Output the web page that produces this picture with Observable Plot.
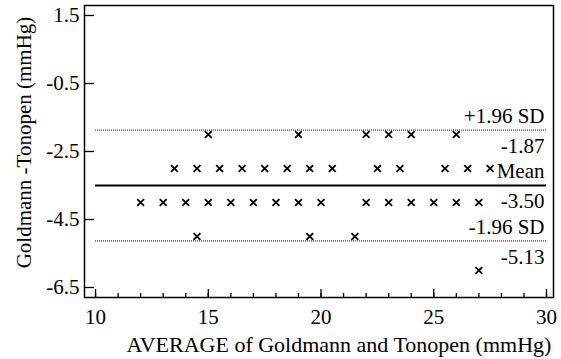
<!DOCTYPE html>
<html><head><meta charset="utf-8">
<script src="https://cdn.jsdelivr.net/npm/d3@7"></script>
<script src="https://cdn.jsdelivr.net/npm/@observablehq/plot@0.6"></script>
<style>
body{margin:0;background:#fff}
</style>
</head><body>
<div id="chart"></div>
<script>
// Differences (Goldmann - Tonopen) and the averages observed at each difference
const diffLevels = [-2, -3, -4, -5, -6];
const averagesAtMinus2 = [15, 19, 22, 23, 24, 26];
const averagesAtMinus3 = [13.5, 14.5, 15.5, 16.5, 17.5, 18.5, 19.5, 20.5, 22.5, 23.5, 25.5, 26.5, 27.5];
const averagesAtMinus4 = [12, 13, 14, 15, 16, 17, 18, 19, 20, 22, 23, 24, 25, 26, 27];
const averagesAtMinus5 = [14.5, 19.5, 21.5];
const averagesAtMinus6 = [27];

// Limits of agreement
const limitNames = ["+1.96 SD", "Mean", "-1.96 SD"];
const limitValues = [-1.87, -3.50, -5.13];
const limitLabels = ["-1.87", "-3.50", "-5.13"];

// Tick labels
const yTicks = [1.5, -0.5, -2.5, -4.5, -6.5];
const xMajorTicks = [10, 15, 20, 25, 30];
const xMinorTicks = [10, 11, 12, 13, 14, 15, 16, 17, 18, 19, 20, 21, 22, 23, 24, 25, 26, 27, 28, 29, 30];

const xTitle = "AVERAGE of Goldmann and Tonopen (mmHg)";
const yTitle = "Goldmann -Tonopen (mmHg)";

const rows = [averagesAtMinus2, averagesAtMinus3, averagesAtMinus4, averagesAtMinus5, averagesAtMinus6];
const points = rows.flatMap((avgs, i) => avgs.map(a => ({avg: a, diff: diffLevels[i]})));
const limits = limitNames.map((name, i) => ({name, value: limitValues[i], label: limitLabels[i]}));
const xStart = d3.min(xMajorTicks), xEnd = d3.max(xMajorTicks);
const serif = "Liberation Serif, Times New Roman, serif";

const chart = Plot.plot({
  width: 561,
  height: 359,
  marginLeft: 84,
  marginRight: 8,
  marginTop: 5,
  marginBottom: 62,
  style: {fontFamily: serif, fontSize: "21px", background: "white", color: "black"},
  x: {domain: [9.51, 30.31], label: null},
  y: {domain: [-6.794, 1.794], label: null},
  marks: [
    Plot.axisX({ticks: xMinorTicks, tickSize: -4, tickFormat: () => "", label: null, strokeWidth: 1.3}),
    Plot.axisX({ticks: xMajorTicks, tickSize: -8, tickPadding: 20, tickFormat: d => String(d), label: null, strokeWidth: 1.3, fontSize: 21, fontFamily: serif}),
    Plot.axisY({ticks: yTicks, tickSize: -10, tickPadding: 15, tickFormat: d => String(d), label: null, strokeWidth: 1.3, fontSize: 21, fontFamily: serif}),
    Plot.ruleY(limits.filter(d => d.name !== "Mean"), {y: "value", x1: () => xStart, x2: () => xEnd, stroke: "black", strokeWidth: 1, strokeDasharray: "1,1"}),
    Plot.ruleY(limits.filter(d => d.name === "Mean"), {y: "value", x1: () => xStart, x2: () => xEnd, stroke: "black", strokeWidth: 2}),
    Plot.dot(points, {x: "avg", y: "diff", symbol: "times", r: 3.2, stroke: "black", strokeWidth: 1.8}),
    Plot.text(limits, {x: () => xEnd, y: "value", text: "name", textAnchor: "end", dx: -2, dy: -14, fontSize: 21, fontFamily: serif}),
    Plot.text(limits, {x: () => xEnd, y: "value", text: "label", textAnchor: "end", dx: -2, dy: 16, fontSize: 21, fontFamily: serif}),
    Plot.text([xTitle], {frameAnchor: "bottom", text: d => d, textAnchor: "middle", lineAnchor: "middle", dx: 20, dy: 47, fontSize: 22, fontFamily: serif}),
    Plot.text([yTitle], {frameAnchor: "left", text: d => d, rotate: -90, textAnchor: "middle", lineAnchor: "middle", dx: -60, dy: -9, fontSize: 21, fontFamily: serif}),
    Plot.frame({stroke: "black", strokeWidth: 1.5})
  ]
});
document.getElementById("chart").appendChild(chart);
</script>
</body></html>
